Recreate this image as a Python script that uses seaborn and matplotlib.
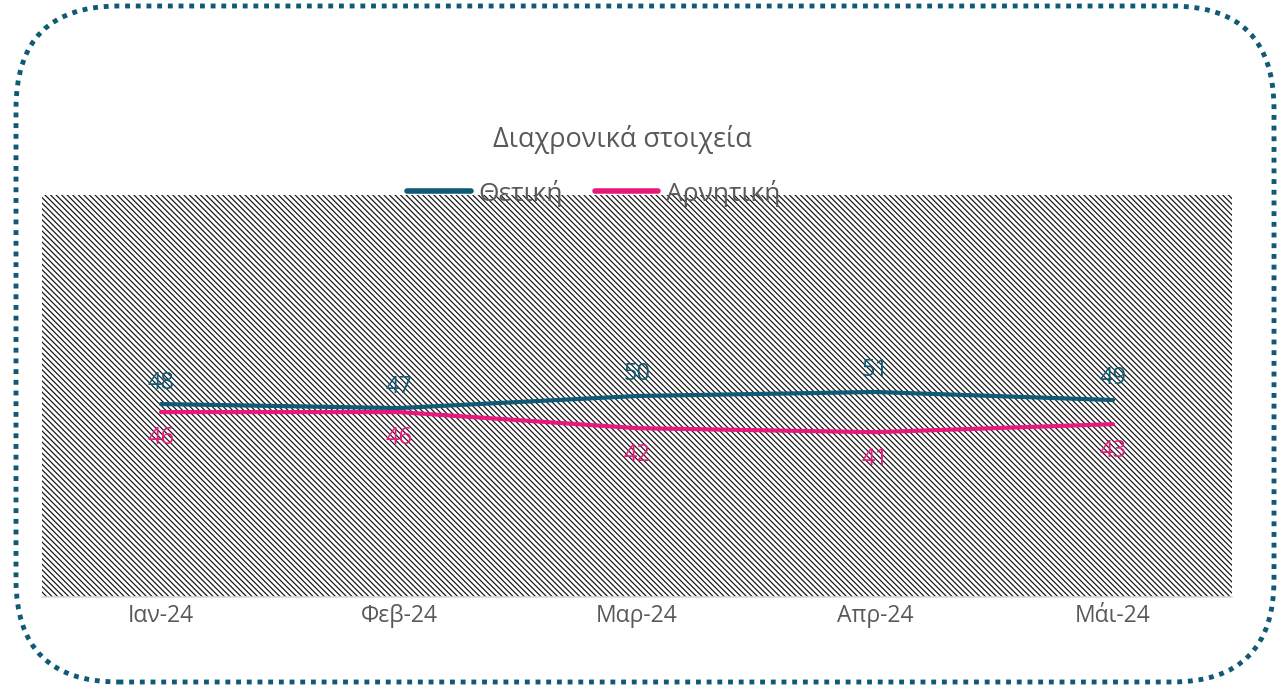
import matplotlib
matplotlib.use("Agg")
import matplotlib.pyplot as plt
from matplotlib.patches import FancyBboxPatch, Rectangle
import seaborn as sns
import pandas as pd

months = ["Ιαν-24", "Φεβ-24", "Μαρ-24", "Απρ-24", "Μάι-24"]
positive = [48, 47, 50, 51, 49]
negative = [46, 46, 42, 41, 43]
series_names = ["Θετική", "Αρνητική"]
title = "Διαχρονικά στοιχεία"

BLUE = "#0F5A74"
PINK = "#E8197C"
GRAY = "#595959"

sns.set_theme(style="white")
plt.rcParams["font.family"] = ["Open Sans", "DejaVu Sans"]
plt.rcParams["hatch.linewidth"] = 0.9

df = pd.DataFrame({
    "month": months * 2,
    "x": list(range(len(months))) * 2,
    "value": positive + negative,
    "series": [series_names[0]] * len(months) + [series_names[1]] * len(months),
})

fig = plt.figure(figsize=(12.81, 6.93), dpi=100)
ax = fig.add_axes([42 / 1281, 96 / 693, 1190 / 1281, 402 / 693])

# hatched background
ax.add_patch(Rectangle((0, 0), 1, 1, transform=ax.transAxes, facecolor="white",
                       edgecolor="#1a1a1a", hatch="\\" * 6, linewidth=0, zorder=0))

sns.lineplot(data=df, x="x", y="value", hue="series", palette=[BLUE, PINK],
             linewidth=3, ax=ax, legend=False, zorder=3)

for i, v in enumerate(positive):
    ax.annotate(str(v), (i, v), xytext=(0, 15.5), textcoords="offset points",
                ha="center", va="center", color=BLUE, fontsize=17)
for i, v in enumerate(negative):
    ax.annotate(str(v), (i, v), xytext=(0, -19), textcoords="offset points",
                ha="center", va="center", color=PINK, fontsize=17)

ax.set_xlim(-0.5, len(months) - 0.5)
ax.set_ylim(0, 100)
ax.set_xticks(range(len(months)))
ax.set_xticklabels(months, fontsize=16.5, color=GRAY)
ax.set_yticks([])
ax.set_xlabel("")
ax.set_ylabel("")
ax.tick_params(axis="x", length=0, pad=5)
for s in ["top", "left", "right"]:
    ax.spines[s].set_visible(False)
ax.spines["bottom"].set_color("#D9D9D9")
ax.spines["bottom"].set_linewidth(1.2)

handles = [plt.Line2D([], [], color=BLUE, lw=4, solid_capstyle="round"),
           plt.Line2D([], [], color=PINK, lw=4, solid_capstyle="round")]
fig.legend(handles, series_names, loc="center", bbox_to_anchor=(594 / 1281, 1 - 193 / 693),
           ncol=2, frameon=False, fontsize=19, handlelength=2.4, handletextpad=0.3,
           columnspacing=1.2, labelcolor=GRAY)

fig.text(622 / 1281, 1 - 140 / 693, title, ha="center", va="center", fontsize=19.5, color=GRAY)

border = FancyBboxPatch((16 / 1281, 11 / 693), 1258 / 1281, 676 / 693,
                        boxstyle="round,pad=0,rounding_size=0.08",
                        transform=fig.transFigure, facecolor="none", edgecolor=BLUE,
                        linewidth=3.5, linestyle=(0, (1, 1.2)), mutation_aspect=1281 / 693)
fig.patches.append(border)

fig.savefig("out.png", dpi=100)
